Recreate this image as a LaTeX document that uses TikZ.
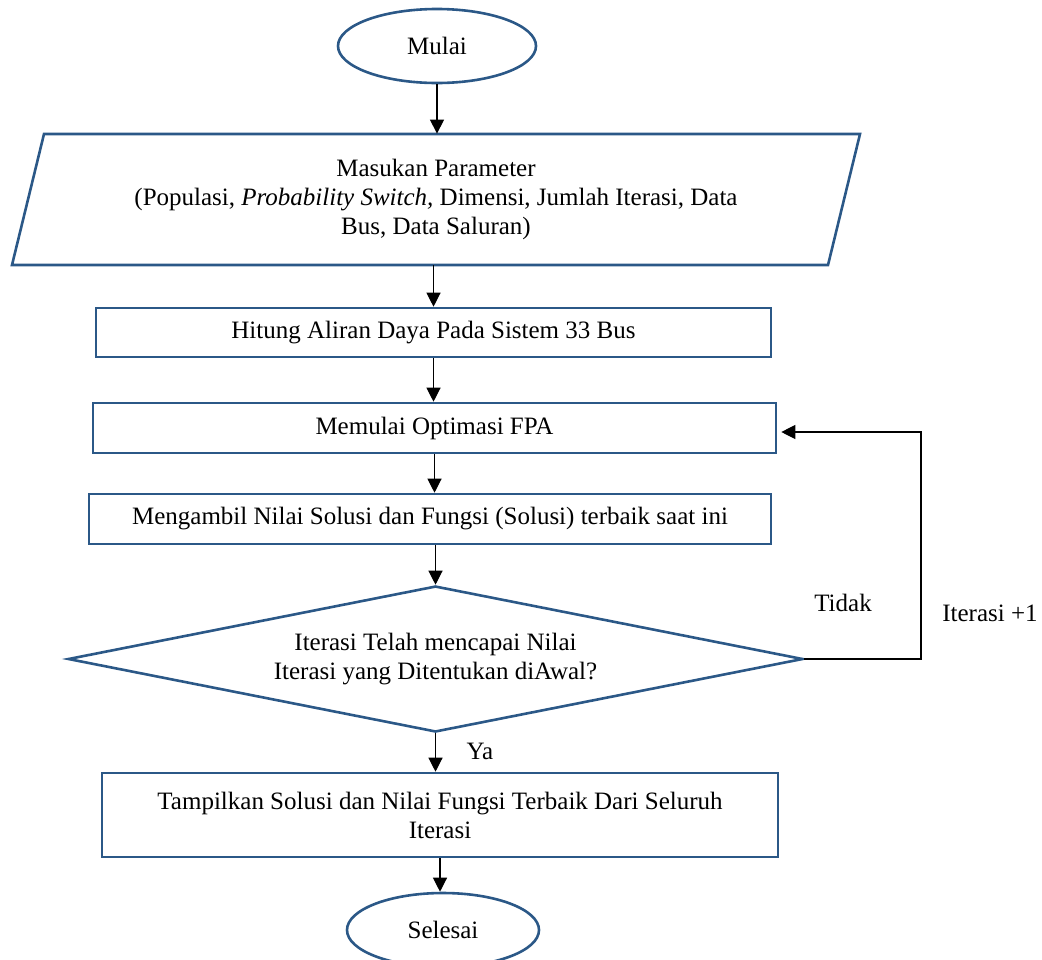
\documentclass[tikz,border=0pt]{standalone}
\usepackage{fontspec}
\setmainfont{Liberation Serif}
\usetikzlibrary{shapes.geometric,arrows.meta}
\definecolor{shapeblue}{HTML}{2B5887}
\tikzset{
  txt/.style={font=\fontsize{12.5}{14.5}\selectfont, align=center, inner sep=0pt},
  proc/.style={txt, draw=shapeblue, line width=1.3pt, rectangle},
  term/.style={txt, draw=shapeblue, line width=1.3pt, ellipse},
  dec/.style={txt, draw=shapeblue, line width=1.3pt, diamond, aspect=5.03},
  conn/.style={line width=0.6pt, -{Triangle[length=7pt,width=7pt]}},
}
\begin{document}
\begin{tikzpicture}[x=0.5pt,y=-0.5pt]
\useasboundingbox (0,0) rectangle (1042,959);
% start
\node[term, minimum width=99pt, minimum height=37pt] (start) at (437,46) {Mulai};
% input parallelogram
\draw[draw=shapeblue, line width=1.3pt] (44,134) -- (860,134) -- (828,265) -- (12,265) -- cycle;
\node[txt, minimum width=408pt, minimum height=65.5pt] (inp) at (436,199.5)
  {Masukan Parameter\\(Populasi, \textit{Probability Switch,} Dimensi, Jumlah Iterasi, Data\\Bus, Data Saluran)};
% process boxes
\node[proc, minimum width=337.5pt, minimum height=24.5pt] (hitung) at (433.5,332.5) {Hitung Aliran Daya Pada Sistem 33 Bus};
\node[proc, minimum width=341.5pt, minimum height=25pt] (mulaiopt) at (434.5,428) {Memulai Optimasi FPA};
\node[proc, minimum width=341pt, minimum height=25pt] (ambil) at (430,519) {Mengambil Nilai Solusi dan Fungsi (Solusi) terbaik saat ini};
% decision
\node[dec, minimum width=367.5pt, minimum height=73pt] (cek) at (435.5,659)
  {Iterasi Telah mencapai Nilai\\Iterasi yang Ditentukan diAwal?};
% output
\node[proc, minimum width=338pt, minimum height=42pt] (tampil) at (440,815)
  {Tampilkan Solusi dan Nilai Fungsi Terbaik Dari Seluruh\\Iterasi};
% end
\node[term, minimum width=96pt, minimum height=37pt] (selesai) at (443,930) {Selesai};
% labels
\node[txt] (tidak) at (843,603) {Tidak};
\node[txt] (iter) at (990,613) {Iterasi +1};
\node[txt] (ya) at (480,751) {Ya};
% connectors
\draw[conn] (start.south) -- (start.south |- inp.north);
\draw[conn] (inp.south -| hitung.north) -- (hitung.north);
\draw[conn] (hitung.south) -- (hitung.south |- mulaiopt.north);
\draw[conn] (mulaiopt.south) -- (mulaiopt.south |- ambil.north);
\draw[conn] (ambil.south -| cek.north) -- (cek.north);
\draw[conn] (cek.south) -- (cek.south |- tampil.north);
\draw[conn] (tampil.south) -- (tampil.south |- selesai.north);
\coordinate (loop) at (921,432);
\draw[conn] (cek.east) -- (cek.east -| loop) -- (loop) -- ([xshift=2pt]mulaiopt.east |- loop);
\end{tikzpicture}
\end{document}
